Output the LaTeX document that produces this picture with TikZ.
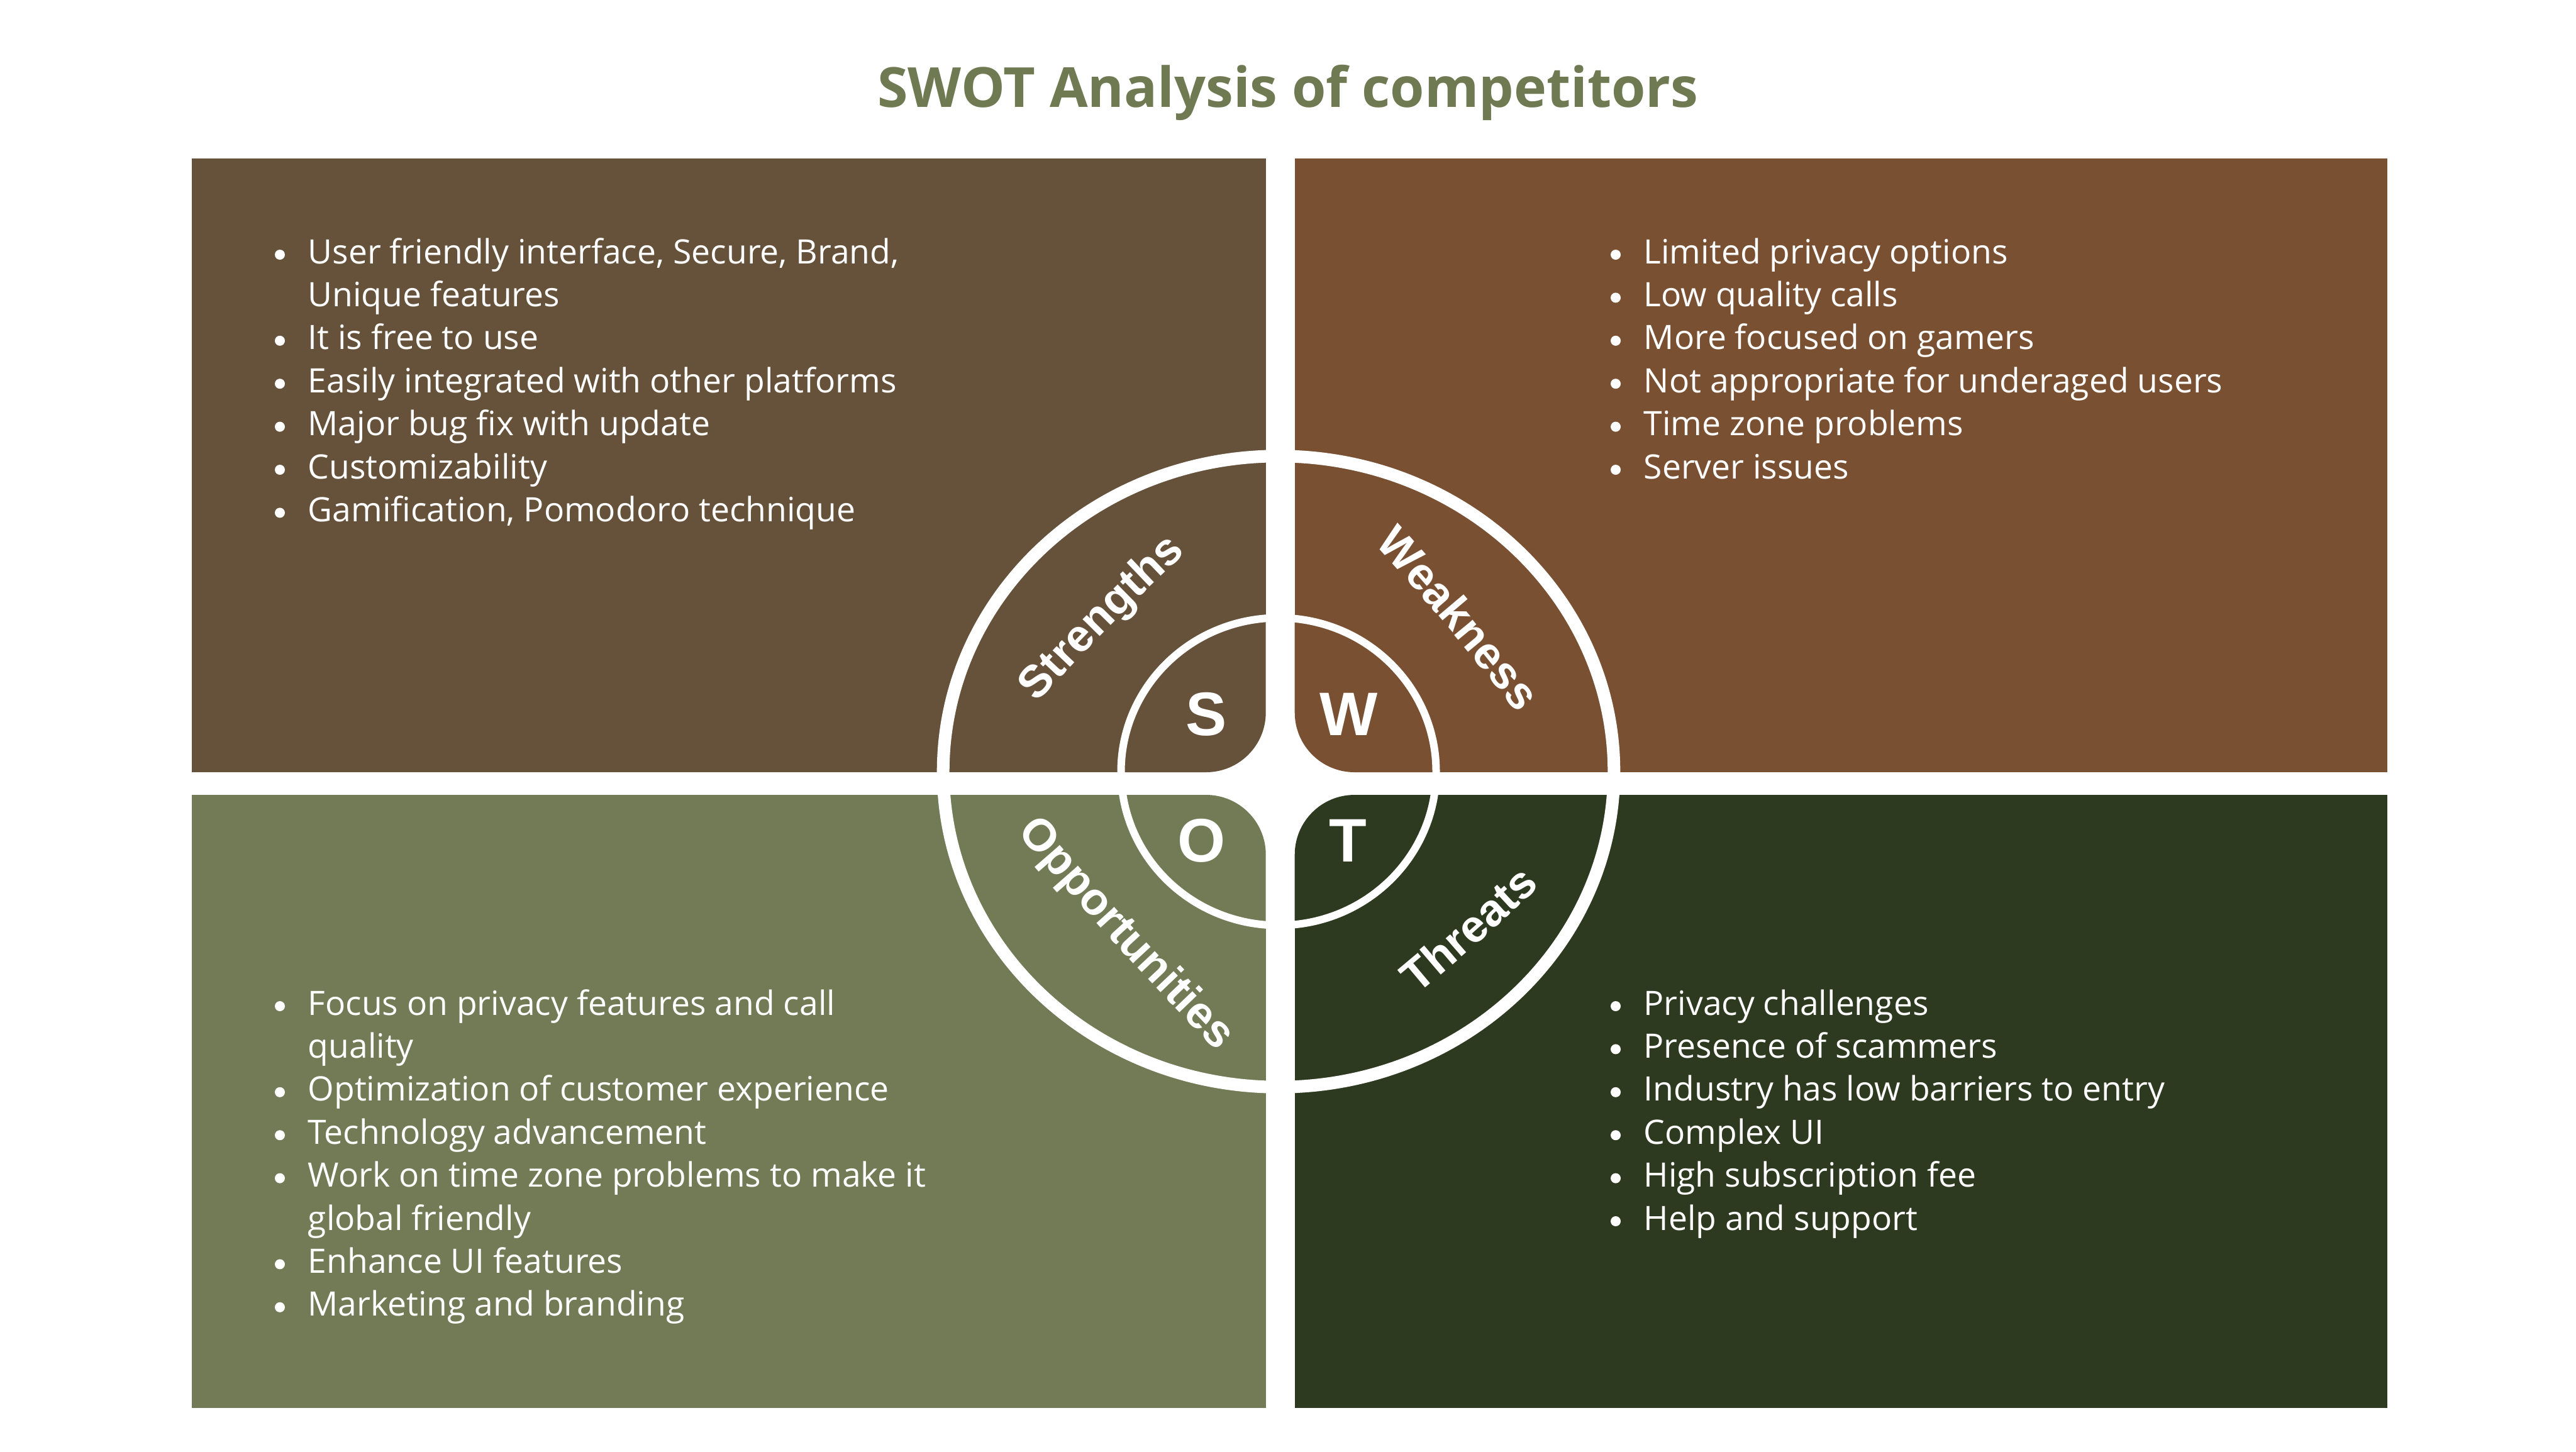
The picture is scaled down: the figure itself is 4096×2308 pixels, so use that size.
\documentclass[tikz,border=0pt]{standalone}
\usepackage{fontspec}
\setmainfont{Open Sans}
\newfontfamily\labelfamily{Liberation Sans}
\usetikzlibrary{decorations.text}
\definecolor{TLc}{HTML}{66523A}
\definecolor{TRc}{HTML}{7A5033}
\definecolor{BLc}{HTML}{727B56}
\definecolor{BRc}{HTML}{2E3A20}
\definecolor{titlec}{HTML}{6F7A52}
\newcommand\ringlabel{\labelfamily\bfseries\fontsize{20.5}{24}\selectfont}
\newcommand\blt[4]{%
  \node[bodytext] (#1) at (#2,#3) {#4};
  \fill[white] (#2-44,#3-14) circle[radius=8];}
\newcommand\cont[4]{\node[bodytext] (#1) at (#2,#3) {#4};}
\begin{document}
\begin{tikzpicture}[x=0.01cm,y=-0.01cm,
  bodytext/.style={anchor=base west,inner sep=0pt,text=white,font=\fontsize{15.2}{18}\selectfont},
  letter/.style={inner sep=0pt,text=white,font=\labelfamily\bfseries\fontsize{27.8}{30}\selectfont},
  ring/.style={decorate,decoration={text along path,text={|\ringlabel|#1},text align=center,text color=white}}]
\useasboundingbox (0,0) rectangle (4096,2308);
\fill[white] (0,0) rectangle (4096,2308);
\node[anchor=base,inner sep=0pt,text=titlec,font=\bfseries\fontsize{25}{30}\selectfont] (title) at (2048,170) {SWOT Analysis of competitors};
% quadrants
\fill[TLc] (305,252) rectangle (2012.7,1228);
\fill[TRc] (2058.7,252) rectangle (3796,1228);
\fill[BLc] (305,1264) rectangle (2012.7,2239);
\fill[BRc] (2058.7,1264) rectangle (3796,2239);
% inner pieces
\begin{scope}
\clip (2033,1227) ellipse [x radius=250.5, y radius=244.5];
\fill[white] (1700,900) rectangle (2400,1600);
\fill[TLc, rounded corners=0.95cm] (1600,800) rectangle (2012.7,1228);
\fill[TRc, rounded corners=0.95cm] (2058.7,800) rectangle (2500,1228);
\fill[BLc, rounded corners=0.95cm] (1600,1264) rectangle (2012.7,1700);
\fill[BRc, rounded corners=0.95cm] (2058.7,1264) rectangle (2500,1700);
\end{scope}
\draw[white, line width=0.2cm] (2033,1227) ellipse [x radius=533.3, y radius=501.7];
\draw[white, line width=0.12cm] (2033,1227) ellipse [x radius=250.5, y radius=244.5];
% letters
\node[letter] (S) at (1918,1136) {S};
\node[letter] (W) at (2145,1136) {W};
\node[letter] (O) at (1911,1337) {O};
\node[letter] (T) at (2143,1337) {T};
% ring labels
\coordinate (sa) at (1559.2,1214.5); \coordinate (sb) at (1981.6,787.9);
\coordinate (wa) at (2102.8,773);    \coordinate (wb) at (2489.2,1232);
\coordinate (oa) at (1542.2,1236.8); \coordinate (ob) at (2014.7,1753.4);
\coordinate (ta) at (2122.6,1689.6); \coordinate (tb) at (2572,1291.8);
\path[ring=Strengths] (sa) .. controls (1762.8,993.7) .. (sb);
\path[ring=Weakness] (wa) .. controls (2304.2,995.6) .. (wb);
\path[ring=Opportunities] (oa) .. controls (1770.5,1502.3) .. (ob);
\path[ring=Threats] (ta) .. controls (2354.4,1498.7) .. (tb);
% strengths
\blt{s1}{489}{419}{User friendly interface, Secure, Brand,}
\cont{s2}{489}{487.4}{Unique features}
\blt{s3}{489}{555.8}{It is free to use}
\blt{s4}{489}{624.2}{Easily integrated with other platforms}
\blt{s5}{489}{692.6}{Major bug fix with update}
\blt{s6}{489}{761}{Customizability}
\blt{s7}{489}{829.4}{Gamification, Pomodoro technique}
% weaknesses
\blt{w1}{2613}{419}{Limited privacy options}
\blt{w2}{2613}{487.4}{Low quality calls}
\blt{w3}{2613}{555.8}{More focused on gamers}
\blt{w4}{2613}{624.2}{Not appropriate for underaged users}
\blt{w5}{2613}{692.6}{Time zone problems}
\blt{w6}{2613}{761}{Server issues}
% opportunities
\blt{o1}{489}{1614}{Focus on privacy features and call}
\cont{o2}{489}{1682.4}{quality}
\blt{o3}{489}{1750.8}{Optimization of customer experience}
\blt{o4}{489}{1819.2}{Technology advancement}
\blt{o5}{489}{1887.6}{Work on time zone problems to make it}
\cont{o6}{489}{1956}{global friendly}
\blt{o7}{489}{2024.4}{Enhance UI features}
\blt{o8}{489}{2092.8}{Marketing and branding}
% threats
\blt{t1}{2613}{1614}{Privacy challenges}
\blt{t2}{2613}{1682.4}{Presence of scammers}
\blt{t3}{2613}{1750.8}{Industry has low barriers to entry}
\blt{t4}{2613}{1819.2}{Complex UI}
\blt{t5}{2613}{1887.6}{High subscription fee}
\blt{t6}{2613}{1956}{Help and support}
\end{tikzpicture}
\end{document}
